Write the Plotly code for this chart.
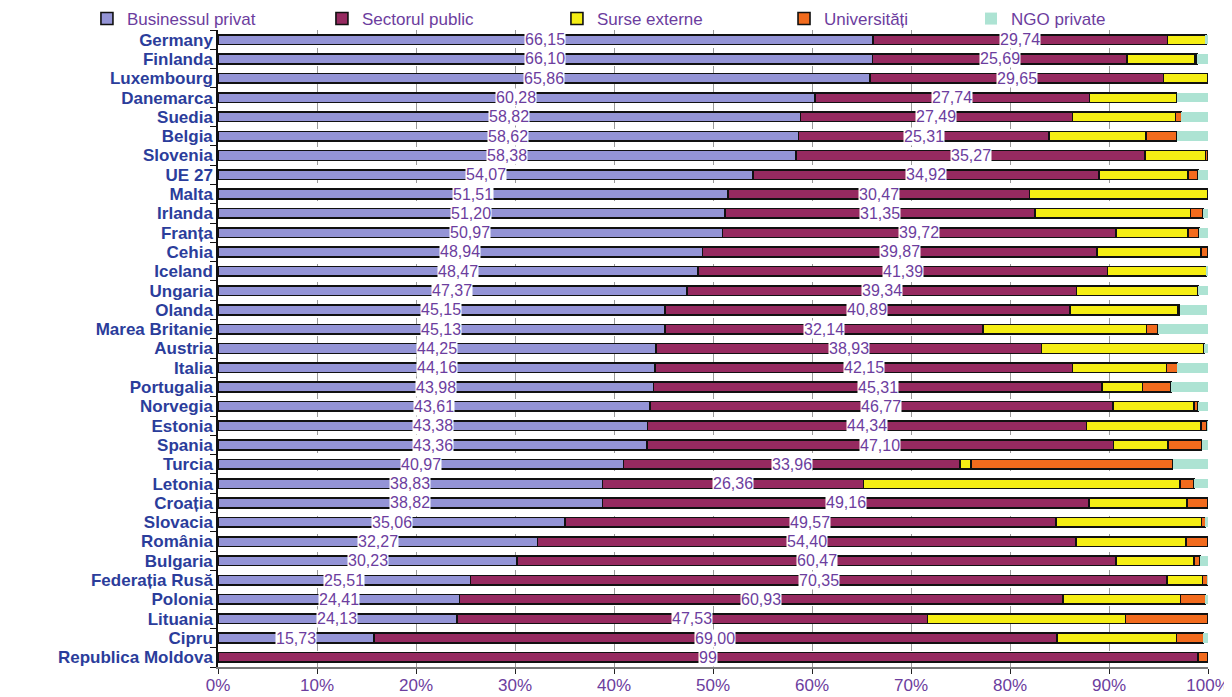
import plotly.graph_objects as go

countries = ["Germany", "Finlanda", "Luxembourg", "Danemarca", "Suedia", "Belgia",
             "Slovenia", "UE 27", "Malta", "Irlanda", "Franța", "Cehia", "Iceland",
             "Ungaria", "Olanda", "Marea Britanie", "Austria", "Italia", "Portugalia",
             "Norvegia", "Estonia", "Spania", "Turcia", "Letonia", "Croația", "Slovacia",
             "România", "Bulgaria", "Federația Rusă", "Polonia", "Lituania", "Cipru",
             "Republica Moldova"]

business = [66.15, 66.10, 65.86, 60.28, 58.82, 58.62, 58.38, 54.07, 51.51, 51.20, 50.97,
            48.94, 48.47, 47.37, 45.15, 45.13, 44.25, 44.16, 43.98, 43.61, 43.38, 43.36,
            40.97, 38.83, 38.82, 35.06, 32.27, 30.23, 25.51, 24.41, 24.13, 15.73, 0]
public = [29.74, 25.69, 29.65, 27.74, 27.49, 25.31, 35.27, 34.92, 30.47, 31.35, 39.72,
          39.87, 41.39, 39.34, 40.89, 32.14, 38.93, 42.15, 45.31, 46.77, 44.34, 47.10,
          33.96, 26.36, 49.16, 49.57, 54.40, 60.47, 70.35, 60.93, 47.53, 69.00, 99]
external = [3.9, 6.9, 4.49, 8.8, 10.4, 9.8, 6.1, 9.0, 18.02, 15.7, 7.3,
            10.5, 10.0, 12.3, 10.9, 16.5, 16.4, 9.5, 4.1, 8.2, 11.6, 5.5,
            1.1, 32.0, 9.9, 14.7, 11.1, 7.9, 3.6, 11.9, 20.0, 12.1, 0]
universities = [0, 0.2, 0, 0, 0.6, 3.1, 0.2, 1.0, 0, 1.25, 1.1,
                0.7, 0, 0, 0.2, 1.2, 0, 1.1, 2.9, 0.4, 0.6, 3.4,
                20.4, 1.4, 2.1, 0.4, 2.2, 0.6, 0.5, 2.5, 8.3, 2.7, 1.0]
ngo = [0.2, 1.1, 0, 3.2, 2.7, 3.2, 0, 1.0, 0, 0.5, 0.9,
       0, 0.1, 1.0, 2.8, 5.0, 0.4, 3.1, 3.7, 1.0, 0.1, 0.6,
       3.6, 1.4, 0, 0.3, 0, 0.8, 0.1, 0.3, 0, 0.5, 0]

x_ticks = list(range(0, 101, 10))
x_tick_labels = [f"{t}%" for t in x_ticks]

series_names = ["Businessul privat", "Sectorul public", "Surse externe", "Universități", "NGO private"]
series_colors = ["#9494d6", "#962a60", "#f5ee14", "#f26b1d", "#ade3d3"]
series_values = [business, public, external, universities, ngo]
# the legend row is split in two blocks so that its spacing matches the original
series_legend = ["legend", "legend", "legend", "legend2", "legend2"]

LABEL_COLOR = "#6c3d9e"
CAT_COLOR = "#2b3d9b"

fig = go.Figure()
for name, color, vals, leg in zip(series_names, series_colors, series_values, series_legend):
    is_ngo = name == "NGO private"
    fig.add_trace(go.Bar(
        y=countries,
        x=[v if v else None for v in vals],
        name=name,
        orientation="h",
        legend=leg,
        marker=dict(color=color,
                    line=dict(color=color if is_ngo else "#111111", width=0 if is_ngo else 1.6)),
        hoverinfo="x+y+name",
    ))


def fmt(v):
    if isinstance(v, int):
        return str(v)
    return f"{v:.2f}".replace(".", ",")


annotations = []
for c, b, p in zip(countries, business, public):
    if b:
        annotations.append(dict(x=b / 2, y=c, xref="x", yref="y", text=fmt(b), showarrow=False,
                                bgcolor="white", borderpad=0,
                                font=dict(family="Arial", size=16, color=LABEL_COLOR)))
    if p:
        annotations.append(dict(x=b + p / 2, y=c, xref="x", yref="y", text=fmt(p), showarrow=False,
                                bgcolor="white", borderpad=0,
                                font=dict(family="Arial", size=16, color=LABEL_COLOR)))

legend_common = dict(orientation="h", xanchor="left", xref="container",
                     yref="paper", y=1.0455, yanchor="top",
                     entrywidthmode="pixels",
                     font=dict(family="Arial", size=17, color=LABEL_COLOR),
                     bgcolor="rgba(0,0,0,0)", traceorder="normal")

# the page body adds an 8px offset, so the figure is sized to fit the window
fig.update_layout(
    width=1224, height=689,
    barmode="stack",
    bargap=0.5,
    margin=dict(l=210, r=24, t=22, b=30, autoexpand=False),
    paper_bgcolor="white",
    plot_bgcolor="white",
    font=dict(family="Arial", color=LABEL_COLOR),
    annotations=annotations,
    legend=dict(x=0.0645, entrywidth=190, **legend_common),
    legend2=dict(x=0.634, entrywidth=142, **legend_common),
    showlegend=True,
)

fig.update_xaxes(
    range=[0, 100],
    tickmode="array", tickvals=x_ticks, ticktext=x_tick_labels,
    showgrid=True, gridcolor="#9a9a9a", griddash="dash", gridwidth=1,
    showline=True, linecolor="#777777", linewidth=1.5,
    ticks="outside", ticklen=5, tickcolor="#222222",
    tickfont=dict(family="Arial", size=17, color=LABEL_COLOR),
    ticklabelstandoff=-3,
    zeroline=False,
    fixedrange=True,
)
fig.update_yaxes(
    categoryorder="array", categoryarray=countries,
    tickmode="array", tickvals=countries, ticktext=countries,
    autorange="reversed",
    showline=True, linecolor="#111111", linewidth=1.5,
    ticks="outside", tickson="boundaries", ticklen=6, tickcolor="#111111",
    tickfont=dict(family="Arial", size=17, color=CAT_COLOR, weight="bold"),
    showgrid=False,
    fixedrange=True,
)

fig.write_html("out.html")
